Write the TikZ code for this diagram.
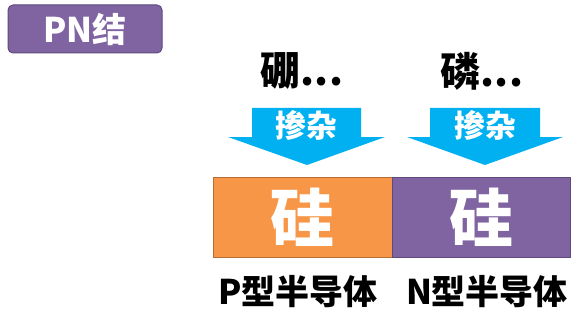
\documentclass[tikz,border=0pt]{standalone}
\usepackage{fontspec}
\setmainfont{Noto Sans CJK SC}[BoldFont={Noto Sans CJK SC Black}]

\definecolor{pnpurple}{HTML}{8064A2}
\definecolor{pnpurpleline}{HTML}{5E4A7C}
\definecolor{pnorange}{HTML}{F79646}
\definecolor{pnorangeline}{HTML}{B66D33}
\definecolor{dopeblue}{HTML}{00B0F0}

\tikzset{
  titlebox/.style={draw=pnpurpleline,fill=pnpurple,rounded corners=5pt,line width=1pt,
    minimum width=154pt,minimum height=48pt,text=white,font=\bfseries\fontsize{34}{34}\selectfont},
  dopant/.style={font=\bfseries\fontsize{40}{40}\selectfont},
  dopetext/.style={text=white,font=\bfseries\fontsize{31}{31}\selectfont},
  silicon/.style={line width=1pt,minimum height=80pt,text=white,font=\bfseries\fontsize{64}{64}\selectfont},
  semi/.style={font=\bfseries\fontsize{34}{34}\selectfont}
}

\begin{document}
\begin{tikzpicture}[x=1pt,y=1pt]
  \useasboundingbox (0,0) rectangle (579,314);
  \node[titlebox] (pn) at (85,285) {PN结};
  % dopants
  \node[dopant] (boron) at (302,243) {硼...};
  \node[dopant] (phos) at (482,243) {磷...};
  % doping arrows
  \fill[dopeblue] (252,206) -- (361,206) -- (361,177) -- (385,177) -- (307,149)
    -- (228,177) -- (252,177) -- cycle;
  \node[dopetext] (dopeP) at (306,189) {掺杂};
  \fill[dopeblue] (430,206) -- (540,206) -- (540,177) -- (563,177) -- (485,149)
    -- (407,177) -- (430,177) -- cycle;
  \node[dopetext] (dopeN) at (485,189) {掺杂};
  % the two halves of the crystal
  \node[silicon,draw=pnorangeline,fill=pnorange,minimum width=179pt] (psi) at (302.5,97) {硅};
  \node[silicon,draw=pnpurpleline,fill=pnpurple,minimum width=178pt] (nsi) at (481,97) {硅};
  \node[semi] (ptype) at (298,22) {P型半导体};
  \node[semi] (ntype) at (487,22) {N型半导体};
\end{tikzpicture}
\end{document}
